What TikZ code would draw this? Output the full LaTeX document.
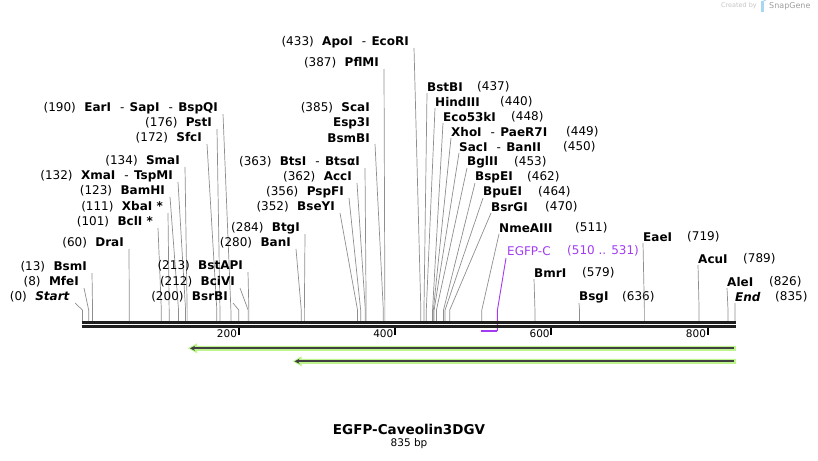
\documentclass[tikz,border=0pt]{standalone}
\usepackage{fontspec}
\setmainfont{DejaVu Sans}
\usetikzlibrary{arrows.meta,calc}

\definecolor{sitegray}{HTML}{8E8E8E}
\definecolor{featpurple}{HTML}{A23BF2}
\definecolor{primergreen}{HTML}{BDF48E}
\definecolor{primerdark}{HTML}{404040}
\definecolor{markgray}{HTML}{C4C4C4}
\definecolor{logoblue}{HTML}{A9D6F2}

\tikzset{
  lbl/.style={inner sep=0pt, font=\fontsize{12}{14}\selectfont},
  lft/.style={lbl, anchor=east},
  rgt/.style={lbl, anchor=west},
  cut/.style={sitegray, line width=.7pt},
  backbone/.style={line width=3pt, black!88},
}
\newcommand{\gap}{\hspace{.7em}}
\newcommand{\dash}{\hspace{.75em}-\hspace{.45em}}

\begin{document}
\begin{tikzpicture}[x=1pt,y=-1pt,>=Latex]
  \useasboundingbox (0,0) rectangle (818,460);
  % marca d'agua
  \node[anchor=east, inner sep=0pt, markgray, font=\fontsize{6.5}{8}\selectfont] (wm1) at (757,6) {Created by};
  \fill[logoblue] (761,1.5) rectangle (763.5,12);
  \fill[logoblue] (763.5,1.5) arc (90:-90:3.2) -- cycle;
  \node[anchor=west, inner sep=0pt, markgray!80!black, font=\fontsize{8}{9}\selectfont] (wm2) at (769,6.5) {SnapGene};
  % sitios sobre o eixo
  \coordinate (kink) at (0,310);
  \foreach \n/\p in {start/0,mfe/8,bsm/13,dra/60,bcl/101,xba/111,bam/123,xma/132,sma/134,sfc/172,pst/176,ear/190,
    bsrb/200,bciv/212,bstap/213,ban/280,btg/284,bsey/352,pspf/356,acc/362,bts/363,sca/385,pflm/387,apo/433,
    bstb/437,hind/440,eco53/448,xho/449,sac/450,bgl/453,bspe/462,bpue/464,bsrg/470,nme/511,egfp/531,
    bmr/579,bsg/636,eae/719,acu/789,ale/826,end/835}
    \coordinate (s-\n) at ({82.4+0.7816*\p},321);
  % rotulos a esquerda
  \foreach \n/\x/\y/\t in {
    start/70/297/{(0)\gap\textbf{\textit{Start}}},
    mfe/79/282/{(8)\gap\textbf{MfeI}},
    bsm/87/267/{(13)\gap\textbf{BsmI}},
    dra/124/243/{(60)\gap\textbf{DraI}},
    bcl/153/222/{(101)\gap\textbf{BclI *}},
    xba/163/207/{(111)\gap\textbf{XbaI *}},
    bam/165/191/{(123)\gap\textbf{BamHI}},
    xma/173/176/{(132)\gap\textbf{XmaI}\dash\textbf{TspMI}},
    sma/180/161/{(134)\gap\textbf{SmaI}},
    sfc/202/138/{(172)\gap\textbf{SfcI}},
    pst/212/123/{(176)\gap\textbf{PstI}},
    ear/218/108/{(190)\gap\textbf{EarI}\dash\textbf{SapI}\dash\textbf{BspQI}},
    bsrb/228/297/{(200)\gap\textbf{BsrBI}},
    bciv/235/282/{(212)\gap\textbf{BciVI}},
    bstap/243/266/{(213)\gap\textbf{BstAPI}},
    ban/291/243/{(280)\gap\textbf{BanI}},
    btg/300/228/{(284)\gap\textbf{BtgI}},
    bsey/335/207/{(352)\gap\textbf{BseYI}},
    pspf/344/192/{(356)\gap\textbf{PspFI}},
    acc/352/177/{(362)\gap\textbf{AccI}},
    bts/360/162/{(363)\gap\textbf{BtsI}\dash\textbf{BtsαI}},
    sca/370/138/{\textbf{BsmBI}},
    pflm/379/63/{(387)\gap\textbf{PflMI}},
    apo/409/42/{(433)\gap\textbf{ApoI}\dash\textbf{EcoRI}}}
  {
    \node[lft] (n-\n) at (\x,\y) {\t};
    \draw[cut] ($(n-\n.east)+(5,6)$) -- (s-\n |- kink) -- (s-\n);
  }
  \node[lft] (n-sca1) at (370,108) {(385)\gap\textbf{ScaI}};
  \node[lft] (n-sca2) at (370,123) {\textbf{Esp3I}};
  % rotulos a direita
  \foreach \n/\x/\y/\t/\nx/\num in {
    bstb/427/87/{\textbf{BstBI}}/477/437,
    hind/435/102/{\textbf{HindIII}}/500/440,
    eco53/443/117/{\textbf{Eco53kI}}/511/448,
    xho/451/132/{\textbf{XhoI}\dash\textbf{PaeR7I}}/566/449,
    sac/459/147/{\textbf{SacI}\dash\textbf{BanII}}/563/450,
    bgl/467/162/{\textbf{BglII}}/514/453,
    bspe/475/177/{\textbf{BspEI}}/527/462,
    bpue/483/192/{\textbf{BpuEI}}/538/464,
    bsrg/491/207/{\textbf{BsrGI}}/545/470,
    nme/499/228/{\textbf{NmeAIII}}/575/511,
    bmr/534/273/{\textbf{BmrI}}/582/579,
    bsg/579/297/{\textbf{BsgI}}/622/636,
    eae/643/237/{\textbf{EaeI}}/687/719,
    acu/698/259/{\textbf{AcuI}}/743/789,
    ale/727/282/{\textbf{AleI}}/769/826,
    end/735/297/{\textbf{\textit{End}}}/775/835}
  {
    \node[rgt] (n-\n) at (\x,\y) {\t};
    \node[rgt] (m-\n) at (\nx,\y) {(\num)};
    \draw[cut] ($(n-\n.west)+(0,6)$) -- (s-\n |- kink) -- (s-\n);
  }
  % EGFP-C
  \coordinate (f-a) at ({82.4+0.7816*510},331);
  \coordinate (f-b) at ({82.4+0.7816*531},331);
  \node[rgt, featpurple] (n-egfp) at (507,251) {EGFP-C};
  \node[rgt, featpurple] (m-egfp) at (567,251) {(510 .. 531)};
  \draw[featpurple, line width=2pt] (f-a) -- (f-b);
  \draw[featpurple, line width=.9pt] ($(n-egfp.west)+(-1,7)$) -- (s-egfp |- kink) -- (f-b);
  % eixo
  \draw[backbone] (81.5,322.4) -- (735.8,322.4);
  \draw[backbone] (81.5,326.8) -- (735.8,326.8);
  \foreach \t in {200,400,600,800} {
    \draw[line width=2pt] ({82.4+0.7816*\t},328) -- ++(0,7);
    \node[anchor=east, inner sep=0pt, font=\fontsize{10.5}{12}\selectfont] (t-\t) at ({80.9+0.7816*\t},333.5) {\t};
  }
  % primers
  \fill[primergreen] (735.8,345.8) -- (197,345.8) -- (197,343.3) -- (188,348.3) -- (197,353.3) -- (197,350.8) -- (735.8,350.8) -- cycle;
  \draw[primerdark, line width=2pt, -{Stealth[length=5pt,width=5pt]}] (733.5,348.3) -- (190,348.3);
  \fill[primergreen] (735.8,358.8) -- (301.5,358.8) -- (301.5,356.3) -- (292.5,361.3) -- (301.5,366.3) -- (301.5,363.8) -- (735.8,363.8) -- cycle;
  \draw[primerdark, line width=2pt, -{Stealth[length=5pt,width=5pt]}] (733.5,361.3) -- (294.5,361.3);
  % titulo
  \node[font=\fontsize{13.5}{16}\selectfont\bfseries] (title) at (409,429) {EGFP-Caveolin3DGV};
  \node[font=\fontsize{10.5}{12}\selectfont] (len) at (409,444) {835 bp};
\end{tikzpicture}
\end{document}
